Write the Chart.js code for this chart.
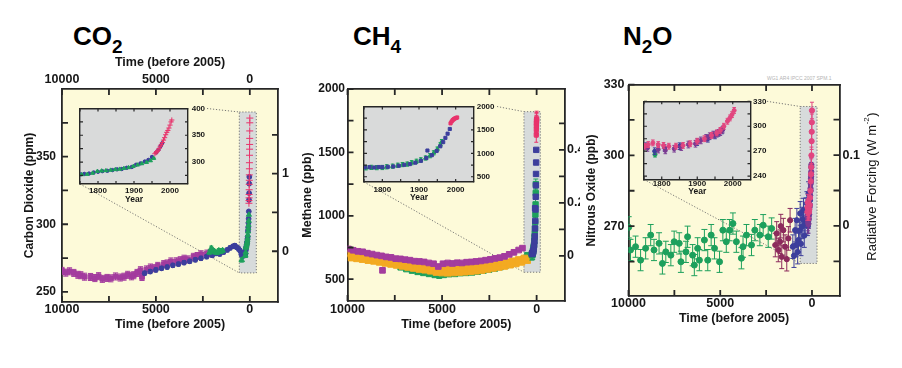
<!DOCTYPE html>
<html>
<head>
<meta charset="utf-8">
<script src="https://cdn.jsdelivr.net/npm/chart.js@4.4.1/dist/chart.umd.min.js"></script>
<style>
  body { margin: 0; background: #fff; }
  #wrap { position: relative; width: 902px; height: 368px; overflow: hidden; font-family: 'Liberation Sans', Arial, sans-serif; }
  canvas { position: absolute; }
  .gas { position: absolute; top: 23px; font-weight: bold; font-size: 26px; line-height: 26px; color: #000; }
  .gas sub { font-size: 19px; vertical-align: -8px; line-height: 0; }
  .stamp { position: absolute; left: 767px; top: 75px; font-size: 5px; color: #b4b4b4; white-space: nowrap; }
</style>
</head>
<body>
<div id="wrap">
  <div class="gas" style="left:73px">CO<sub>2</sub></div>
  <div class="gas" style="left:353px">CH<sub>4</sub></div>
  <div class="gas" style="left:623px">N<sub>2</sub>O</div>
  <div class="stamp">WG1 AR4 IPCC 2007 SPM.1</div>
  <canvas id="co2" style="left:0;top:40px" width="300" height="305"></canvas>
  <canvas id="ch4" style="left:300px;top:40px" width="280" height="305"></canvas>
  <canvas id="n2o" style="left:580px;top:40px" width="322" height="305"></canvas>
  <canvas id="co2in" style="left:70px;top:100px" width="137" height="110"></canvas>
  <canvas id="ch4in" style="left:354px;top:99px" width="143" height="110"></canvas>
  <canvas id="n2oin" style="left:634px;top:94px" width="133" height="110"></canvas>
</div>
<script>
// axes
const timeTicks = [10000, 7500, 5000, 2500, 0];
const timeLabels = ['10000', '', '5000', '', '0'];
const yearTicks = [1750, 1800, 1850, 1900, 1950, 2000];
const yearLabels = ['', '1800', '', '1900', '', '2000'];

const co2Ticks = [250, 275, 300, 325, 350, 375];
const co2Labels = ['250', '', '300', '', '350', ''];
const co2RfTicks = [0, 0.5, 1, 1.5];
const co2RfLabels = ['0', '', '1', ''];
const co2InsetTicks = [275, 300, 325, 350, 375, 400];
const co2InsetLabels = ['', '300', '', '350', '', '400'];

const ch4Ticks = [500, 750, 1000, 1250, 1500, 1750, 2000];
const ch4Labels = ['500', '', '1000', '', '1500', '', '2000'];
const ch4RfTicks = [0, 0.1, 0.2, 0.3, 0.4, 0.5];
const ch4RfLabels = ['0', '', '0.2', '', '0.4', ''];
const ch4InsetTicks = [500, 750, 1000, 1250, 1500, 1750, 2000];
const ch4InsetLabels = ['500', '', '1000', '', '1500', '', '2000'];

const n2oTicks = [255, 270, 285, 300, 315, 330];
const n2oLabels = ['', '270', '', '300', '', '330'];
const n2oRfTicks = [-0.05, 0, 0.05, 0.1, 0.15];
const n2oRfLabels = ['', '0', '', '0.1', ''];
const n2oInsetTicks = [240, 255, 270, 285, 300, 315, 330];
const n2oInsetLabels = ['240', '', '270', '', '300', '', '330'];

// CO2, ppm (age = years before 2005)
const co2DomeAge = [10000, 9800, 9600, 9370, 9150, 9000, 8800, 8480, 8250, 8050, 7850, 7600, 7400, 7150, 6900, 6700, 6500, 6300, 6180, 6000, 5820, 5740, 5500, 5290, 5100, 4900, 4580, 4400, 4200, 3900, 3700, 3500, 3300, 3000, 2800, 2600, 2280, 2100];
const co2DomeVal = [265.5, 264.2, 265.2, 264.0, 262.6, 262.3, 261.2, 261.0, 260.2, 261.6, 259.6, 260.3, 260.0, 261.4, 260.6, 261.2, 262.6, 261.5, 262.3, 264.0, 266.0, 261.0, 266.6, 268.0, 267.5, 269.2, 270.5, 271.0, 272.5, 272.6, 273.4, 274.5, 274.0, 275.9, 276.5, 277.8, 278.3, 278.8];
const co2LawAge = [5600, 5300, 5000, 4700, 4400, 4100, 3800, 3500, 3200, 2900, 2600, 2300, 2000, 1800, 1600, 1400, 1200, 1050, 900, 800, 700, 600, 520, 450, 380, 330];
const co2LawVal = [263.8, 265.0, 266.2, 267.4, 268.3, 269.6, 270.5, 271.6, 272.6, 273.7, 274.8, 276.0, 277.0, 278.4, 278.0, 279.4, 281.0, 282.5, 283.6, 284.2, 283.0, 281.8, 280.4, 277.6, 276.5, 278.8];
const co2GreenAge = [2150, 2050, 1950, 1850, 1750, 1650, 1550, 1450, 430];
const co2GreenVal = [279.2, 282.3, 280.6, 279.4, 279.0, 280.5, 279.8, 280.6, 273.5];
const co2InsetBlueYear = [1752, 1762, 1775, 1788, 1800, 1812, 1826, 1840, 1853, 1866, 1880, 1894, 1906, 1918, 1930, 1940, 1950, 1962, 1968, 1974, 1978];
const co2InsetBlueVal = [277.0, 277.8, 278.5, 280.5, 281.8, 283.0, 283.6, 285.0, 286.4, 287.0, 289.3, 290.8, 295.0, 297.6, 301.0, 304.0, 309.5, 318.0, 323.0, 330.0, 335.0];
const co2InsetGreenYear = [1755, 1770, 1785, 1798, 1810, 1822, 1835, 1848, 1860, 1872, 1885, 1898, 1910, 1922, 1935, 1946, 1955];
const co2InsetGreenVal = [276.5, 277.2, 279.3, 282.6, 283.5, 284.0, 285.0, 286.0, 286.8, 288.2, 289.6, 292.0, 294.6, 297.0, 299.5, 302.5, 307.0];
const co2MaunaYear = [1958, 1961, 1964, 1967, 1970, 1973, 1976, 1979, 1982, 1985, 1988, 1991, 1994, 1997, 2000, 2003, 2005];
const co2MaunaVal = [315.5, 317.5, 319.5, 322.0, 325.5, 329.5, 332.5, 336.5, 341.0, 345.5, 351.0, 355.5, 359.0, 363.5, 369.0, 375.0, 378.5];

// CH4, ppb
const ch4PurpleAge = [9950, 9700, 9450, 9200, 8950, 8700, 8450, 8200, 8150, 7950, 7700, 7450, 7200, 6950, 6700, 6450, 6200, 5950, 5700, 5450, 5200, 4950, 4700, 4450, 4200, 3950, 3700, 3450, 3200, 2950, 2700, 2450, 2200, 1950, 1700, 1450, 1200, 950, 750];
const ch4PurpleVal = [738, 728, 720, 716, 705, 698, 690, 684, 570, 676, 672, 662, 660, 654, 650, 642, 640, 636, 628, 622, 600, 622, 628, 624, 630, 628, 634, 636, 640, 644, 650, 656, 664, 670, 680, 696, 712, 730, 745];
const ch4OrangeAge = [9950, 9800, 9650, 9500, 9350, 9200, 9050, 8900, 8750, 8600, 8450, 8300, 8150, 8000, 7850, 7700, 7550, 7400, 7250, 7100, 6950, 6800, 6650, 6500, 6350, 6200, 6050, 5900, 5750, 5600, 5450, 5300, 5150, 5000, 4850, 4700, 4550, 4400, 4250, 4100, 3950, 3800, 3650, 3500, 3350, 3200, 3050, 2900, 2750, 2600, 2450, 2300, 2150, 2000, 1850, 1700, 1550, 1400, 1250, 1100, 950, 800, 650, 500];
const ch4OrangeVal = [702, 670, 694, 664, 690, 658, 682, 650, 676, 644, 664, 636, 660, 628, 648, 620, 640, 612, 632, 604, 624, 596, 616, 588, 606, 580, 600, 574, 594, 566, 588, 556, 582, 552, 580, 550, 582, 552, 584, 556, 586, 558, 590, 562, 592, 566, 598, 572, 604, 580, 612, 588, 618, 596, 626, 604, 634, 614, 642, 624, 652, 636, 664, 650];
const ch4GreenAge = [7200, 6900, 6600, 6300, 6000, 5700, 5400, 5150, 4900, 4600, 4300, 4000, 3700, 3400, 3100, 2800, 2500, 2200, 1900, 1600, 1300, 1000, 700, 500];
const ch4GreenVal = [592, 578, 566, 556, 548, 540, 532, 526, 532, 538, 540, 546, 548, 552, 558, 566, 574, 582, 594, 608, 622, 640, 662, 690];
const ch4InsetBlueYear = [1752, 1765, 1778, 1790, 1800, 1815, 1830, 1845, 1860, 1875, 1890, 1905, 1920, 1923, 1935, 1948, 1958, 1966, 1972, 1978, 1984];
const ch4InsetBlueVal = [700, 705, 698, 708, 705, 712, 720, 735, 755, 770, 800, 840, 900, 1060, 960, 1050, 1150, 1240, 1330, 1420, 1520];
const ch4InsetGreenYear = [1755, 1770, 1785, 1800, 1812, 1828, 1842, 1855, 1868, 1880, 1893, 1905, 1918, 1930, 1940, 1950, 1958, 1962];
const ch4InsetGreenVal = [690, 700, 695, 698, 712, 725, 745, 760, 770, 800, 830, 860, 900, 950, 1010, 1090, 1180, 1250];
const ch4InsetRedYear = [1986, 1989, 1992, 1995, 1998, 2001, 2004];
const ch4InsetRedVal = [1640, 1680, 1710, 1730, 1745, 1755, 1765];

// N2O, ppb
const n2oGreenAge = [9990, 9890, 9615, 9341, 9066, 8791, 8610, 8335, 8152, 7967, 7692, 7511, 7236, 7143, 6868, 6780, 6505, 6412, 6231, 6137, 5863, 5681, 5495, 5313, 5038, 4857, 4670, 4489, 4308, 4121, 3846, 3758, 3571, 3297, 3115, 2841, 2659, 2385, 2198];
const n2oGreenVal = [269.5, 259.9, 261.3, 255.6, 260.6, 266.2, 259.9, 262.7, 254.2, 259.1, 257.7, 263.4, 262.7, 254.9, 259.1, 265.5, 257.7, 253.5, 260.6, 255.6, 264.1, 255.6, 266.2, 260.6, 254.9, 268.3, 263.4, 268.3, 271.1, 263.4, 256.4, 261.3, 266.2, 262.0, 268.3, 266.2, 270.4, 265.5, 269.0];
const n2oMaroonAge = [2000, 1923, 1835, 1742, 1700, 1648, 1560, 1467, 1374, 1286, 1192];
const n2oMaroonVal = [262.0, 266.9, 259.9, 263.4, 270.0, 257.0, 268.3, 261.3, 256.0, 264.8, 272.5];
const n2oBlueAge = [1044, 980, 918, 870, 824, 780, 736, 690, 643, 600, 549, 500, 462, 420, 368, 320, 275, 230, 187];
const n2oBlueVal = [261.3, 257.5, 268.3, 262.0, 272.5, 259.0, 264.1, 268.0, 275.4, 262.5, 269.7, 273.0, 276.8, 266.0, 271.1, 277.0, 279.6, 272.0, 283.8];
const n2oPinkYear = [1752, 1762, 1775, 1790, 1805, 1820, 1840, 1860, 1880, 1900, 1920, 1940, 1955, 1965, 1975, 1985, 1992, 1998, 2004];
const n2oPinkVal = [276, 278, 280, 278, 277, 276, 276, 277, 279, 282, 285, 289, 292, 295, 300, 306, 310, 314, 319];
const n2oPurpleYear = [1760, 1790, 1810, 1835, 1855, 1875, 1895, 1910, 1925, 1935, 1945, 1955, 1965, 1972];
const n2oPurpleVal = [274, 272, 271, 273, 275, 278, 279, 283, 286, 288, 290, 291, 293, 296];
const n2oInsetBlueYear = [1755, 1780, 1808, 1850, 1900, 1930, 1950, 1960, 1970];
const n2oInsetBlueVal = [276, 270, 274, 276, 281, 285, 289, 292, 295];
const n2oInsetGreenYear = [1781];
const n2oInsetGreenVal = [266];

const FRAME = '#262626';
const INK = '#161616';
const YELLOW = '#fdfad9';
const GREY = '#d9dada';
const PURPLE = '#a33c9e';
const BLUE = '#3c3e9c';
const GREEN = '#1da05c';
const RED = '#e8336b';
const ORANGE = '#f3aa22';
const MAROON = '#8c2a5c';
const PINK = '#e2457f';
const VIOLET = '#7a3a92';

Chart.defaults.font.family = "'Liberation Sans', Arial, sans-serif";
Chart.defaults.color = INK;

// pale background inside the frame
Chart.register({
  id: 'frameBg',
  beforeDraw(chart, args, opts) {
    if (!opts.color) return;
    const a = chart.chartArea;
    chart.ctx.save();
    chart.ctx.fillStyle = opts.color;
    chart.ctx.fillRect(a.left, a.top, a.width, a.height);
    chart.ctx.restore();
  }
});

// vertical error bars with caps, drawn just under each dataset's markers
Chart.register({
  id: 'errorBars',
  beforeDatasetDraw(chart, args) {
    const ds = chart.data.datasets[args.index];
    if (!ds.err) return;
    const ctx = chart.ctx, ys = chart.scales[args.meta.yAxisID], a = chart.chartArea;
    ctx.save();
    ctx.beginPath();
    ctx.rect(a.left, a.top, a.width, a.height);
    ctx.clip();
    ctx.strokeStyle = ds.borderColor;
    ctx.lineWidth = 1;
    ctx.beginPath();
    args.meta.data.forEach((pt, i) => {
      const v = ds.data[i].y;
      const t = ys.getPixelForValue(v + ds.err), b = ys.getPixelForValue(v - ds.err);
      ctx.moveTo(pt.x, t); ctx.lineTo(pt.x, b);
      ctx.moveTo(pt.x - ds.cap, t); ctx.lineTo(pt.x + ds.cap, t);
      ctx.moveTo(pt.x - ds.cap, b); ctx.lineTo(pt.x + ds.cap, b);
    });
    ctx.stroke();
    ctx.restore();
  }
});

// tick marks pointing into the plot, on every side
Chart.register({
  id: 'innerTicks',
  afterDatasetsDraw(chart) {
    const { ctx, chartArea: a } = chart;
    ctx.save();
    ctx.strokeStyle = FRAME;
    Object.values(chart.scales).forEach(s => {
      const len = s.options.grid.tickLength;
      ctx.lineWidth = s.options.grid.lineWidth;
      ctx.beginPath();
      s.ticks.forEach(t => {
        const p = s.getPixelForValue(t.value);
        if (s.position === 'bottom') { ctx.moveTo(p, a.bottom); ctx.lineTo(p, a.bottom - len); }
        else if (s.position === 'top') { ctx.moveTo(p, a.top); ctx.lineTo(p, a.top + len); }
        else if (s.position === 'left') { ctx.moveTo(a.left, p); ctx.lineTo(a.left + len, p); }
        else { ctx.moveTo(a.right, p); ctx.lineTo(a.right - len, p); }
      });
      ctx.stroke();
    });
    ctx.restore();
  }
});

function pts(xs, ys) { return xs.map((x, i) => ({ x, y: ys[i] })); }
function ago(years) { return years.map(y => 2005 - y); }

function mark(data, color, style, radius, err, cap) {
  return {
    data, backgroundColor: color, borderColor: color,
    pointStyle: style, pointRadius: radius, pointBorderWidth: 1,
    err: err || 0, cap: cap || 2
  };
}

function axis(o) {
  const tick = o.tick || 6;
  return {
    type: 'linear',
    position: o.pos,
    min: o.min,
    max: o.max,
    reverse: !!o.reverse,
    afterBuildTicks: s => { s.ticks = o.values.map(v => ({ value: v })); },
    afterFit: s => { if (s.isHorizontal()) s.height = o.size; else s.width = o.size; },
    grid: { drawOnChartArea: false, drawTicks: false, tickLength: tick, color: FRAME, lineWidth: o.lw || 1.8 },
    border: { display: true, color: FRAME, width: o.bw || 1.8 },
    ticks: {
      autoSkip: false, maxRotation: 0, padding: (o.pad || 0) - (o.tick ? tick : 5), color: INK,
      font: { size: o.fs || 12.5, weight: 'bold' },
      callback: (v, i) => (o.labels ? o.labels[i] : '')
    },
    title: o.title
      ? { display: true, text: o.title, color: INK, font: { size: o.tfs || 12.5, weight: o.tw || 'bold' }, padding: o.tpad }
      : { display: false }
  };
}

function panel(id, cfg) {
  return new Chart(document.getElementById(id), {
    type: 'scatter',
    data: { datasets: cfg.datasets },
    options: {
      responsive: false,
      animation: false,
      events: [],
      layout: { padding: 0 },
      scales: cfg.scales,
      plugins: { legend: { display: false }, tooltip: { enabled: false }, frameBg: { color: cfg.bg } }
    },
    plugins: cfg.plugins || []
  });
}

// grey zoom box on the main plot, with dotted lines to the inset
function zoomLink(box, inset, mainAt, insetAt) {
  return {
    id: 'zoomLink',
    beforeDatasetsDraw(chart) {
      const { ctx, scales: { x, y } } = chart;
      const x1 = x.getPixelForValue(box.age[0]), x2 = x.getPixelForValue(box.age[1]);
      const y1 = y.getPixelForValue(box.val[0]), y2 = y.getPixelForValue(box.val[1]);
      const dx = insetAt[0] - mainAt[0], dy = insetAt[1] - mainAt[1];
      const a = inset.chartArea;
      ctx.save();
      ctx.fillStyle = '#d7dbdb';
      ctx.fillRect(x1, y2, x2 - x1, y1 - y2);
      ctx.setLineDash([1.2, 1.8]);
      ctx.strokeStyle = '#6a6a6a';
      ctx.lineWidth = 0.9;
      ctx.strokeRect(x1, y2, x2 - x1, y1 - y2);
      ctx.beginPath();
      ctx.moveTo(inset.scales.y.right + dx, a.top + dy);
      ctx.lineTo(x1, y2);
      ctx.moveTo(a.left + dx, a.bottom + dy);
      ctx.lineTo(x1, y1);
      ctx.stroke();
      ctx.restore();
    }
  };
}

function insetScales(min, max, values, labels, rightSize, pad, xPad, yearPad) {
  return {
    x: axis({ pos: 'bottom', min: 1750, max: 2050, values: yearTicks, labels: yearLabels, size: 110 - yearPad.area, pad: xPad, fs: 8, tick: 3, lw: 1.2, bw: 1.4,
      title: 'Year', tfs: 8.5, tpad: { top: 0, bottom: yearPad.title } }),
    xTop: axis({ pos: 'top', min: 1750, max: 2050, values: yearTicks, size: 7, tick: 3, lw: 1.2, bw: 1.4 }),
    y: axis({ pos: 'right', min, max, values, labels, size: rightSize, pad, fs: 8, tick: 3, lw: 1.2, bw: 1.4 }),
    yLeft: axis({ pos: 'left', min, max, values, size: 10, tick: 3, lw: 1.2, bw: 1.4 })
  };
}

function mainX(size, pad, tpadBottom) {
  return axis({ pos: 'bottom', min: -1500, max: 10000, reverse: true, values: timeTicks, labels: timeLabels, size, pad,
    title: 'Time (before 2005)', tpad: { top: 0, bottom: tpadBottom } });
}

// ---------- CO2 ----------
const co2Inset = panel('co2in', {
  bg: GREY,
  datasets: [
    mark(pts(co2MaunaYear, co2MaunaVal), RED, 'cross', 2.6, 0),
    mark(pts(co2InsetGreenYear, co2InsetGreenVal), GREEN, 'triangle', 2.2, 1.2, 1.5),
    mark(pts(co2InsetBlueYear, co2InsetBlueVal), BLUE, 'circle', 1.7, 1.5, 1.5)
  ],
  scales: insetScales(259, 400, co2InsetTicks, co2InsetLabels, 19, 6.7, 5.2, { area: 84, title: 4.9 })
});

panel('co2', {
  bg: YELLOW,
  datasets: [
    mark(pts(ago(co2MaunaYear), co2MaunaVal), RED, 'cross', 3.5, 0),
    mark(pts(ago(co2InsetGreenYear), co2InsetGreenVal), GREEN, 'triangle', 3, 0),
    mark(pts(ago(co2InsetBlueYear), co2InsetBlueVal), BLUE, 'circle', 2.4, 0),
    mark(pts(co2GreenAge, co2GreenVal), GREEN, 'triangle', 3.2, 1.5, 2),
    mark(pts(co2LawAge, co2LawVal), BLUE, 'circle', 2.4, 1.5, 2),
    mark(pts(co2DomeAge, co2DomeVal), PURPLE, 'rect', 3.4, 2.6, 2.6)
  ],
  scales: {
    x: mainX(43, 5.5, 12.8),
    xTop: axis({ pos: 'top', min: -1500, max: 10000, reverse: true, values: timeTicks, labels: timeLabels, size: 49, pad: 7,
      title: 'Time (before 2005)', tpad: { top: 14.8, bottom: 0 } }),
    y: axis({ pos: 'left', min: 242.5, max: 400, values: co2Ticks, labels: co2Labels, size: 62, pad: 11, fs: 12,
      title: 'Carbon Dioxide (ppm)', tfs: 12, tpad: { top: 22.8, bottom: 0 } }),
    yRight: axis({ pos: 'right', min: -0.654, max: 2.09, values: co2RfTicks, labels: co2RfLabels, size: 22, pad: 9 })
  },
  plugins: [zoomLink({ age: [560, -345], val: [264, 383] }, co2Inset, [0, 40], [70, 100])]
});

// ---------- CH4 ----------
const ch4Inset = panel('ch4in', {
  bg: GREY,
  datasets: [
    mark(pts(ch4InsetRedYear, ch4InsetRedVal), RED, 'rect', 2.2, 25, 1.5),
    mark(pts(ch4InsetBlueYear, ch4InsetBlueVal), BLUE, 'rect', 2.2, 0),
    mark(pts(ch4InsetGreenYear, ch4InsetGreenVal), GREEN, 'triangle', 2.4, 45, 1.8)
  ],
  scales: insetScales(388, 2000, ch4InsetTicks, ch4InsetLabels, 23, 5.7, 5.5, { area: 83, title: 5.9 })
});

panel('ch4', {
  bg: YELLOW,
  datasets: [
    mark(pts(ago(ch4InsetRedYear), ch4InsetRedVal), RED, 'rect', 3, 60, 0),
    mark(pts(ago(ch4InsetBlueYear), ch4InsetBlueVal), BLUE, 'rect', 3.8, 0),
    mark(pts(ago(ch4InsetGreenYear), ch4InsetGreenVal), GREEN, 'rect', 3.8, 40, 2.5),
    mark(pts(ch4PurpleAge, ch4PurpleVal), PURPLE, 'rect', 4, 10, 2.5),
    mark(pts(ch4OrangeAge, ch4OrangeVal), ORANGE, 'rect', 4.6, 14, 2.5),
    mark(pts(ch4GreenAge, ch4GreenVal), GREEN, 'rect', 3.6, 10, 2.5)
  ],
  scales: {
    x: mainX(44, 6.5, 12.8),
    xTop: axis({ pos: 'top', min: -1500, max: 10000, reverse: true, values: timeTicks, size: 49 }),
    y: axis({ pos: 'left', min: 328, max: 2000, values: ch4Ticks, labels: ch4Labels, size: 47.5, pad: 7.5, fs: 12,
      title: 'Methane (ppb)', tfs: 12.5, tpad: { top: 0.5, bottom: 0 } }),
    yRight: axis({ pos: 'right', min: -0.17, max: 0.63, values: ch4RfTicks, labels: ch4RfLabels, size: 15, pad: 7 })
  },
  plugins: [zoomLink({ age: [670, -195], val: [555, 1821] }, ch4Inset, [300, 40], [354, 99])]
});

// ---------- N2O ----------
const n2oInset = panel('n2oin', {
  bg: GREY,
  datasets: [
    mark(pts(n2oPinkYear, n2oPinkVal), PINK, 'circle', 2, 3.5, 1.8),
    mark(pts(n2oPurpleYear, n2oPurpleVal), VIOLET, 'circle', 2, 4, 1.8),
    mark(pts(n2oInsetBlueYear, n2oInsetBlueVal), BLUE, 'circle', 2, 4, 1.8),
    mark(pts(n2oInsetGreenYear, n2oInsetGreenVal), GREEN, 'circle', 2, 3, 1.8)
  ],
  scales: insetScales(236, 330, n2oInsetTicks, n2oInsetLabels, 16.5, 5.5, 2, { area: 85.5, title: 7.2 })
});

const forcingTitle = {
  id: 'forcingTitle',
  afterDraw(chart) {
    const { ctx, chartArea: a } = chart;
    const main = 'Radiative Forcing (W m', sup = '-2', end = ')';
    const big = "13px 'Liberation Sans', Arial, sans-serif", small = "8px 'Liberation Sans', Arial, sans-serif";
    ctx.save();
    ctx.translate(chart.scales.yRight.right - 30, (a.top + a.bottom) / 2 - 4);
    ctx.rotate(-Math.PI / 2);
    ctx.fillStyle = INK;
    ctx.textBaseline = 'middle';
    ctx.font = big;
    const w1 = ctx.measureText(main).width, w3 = ctx.measureText(end).width;
    ctx.font = small;
    const w2 = ctx.measureText(sup).width;
    let x0 = -(w1 + w2 + w3 + 1) / 2;
    ctx.font = big;
    ctx.fillText(main, x0, 0);
    x0 += w1 + 0.5;
    ctx.font = small;
    ctx.fillText(sup, x0, -5);
    x0 += w2 + 0.5;
    ctx.font = big;
    ctx.fillText(end, x0, 0);
    ctx.restore();
  }
};

panel('n2o', {
  bg: YELLOW,
  datasets: [
    mark(pts(ago(n2oPinkYear), n2oPinkVal), PINK, 'circle', 2.6, 3.5, 2),
    mark(pts(ago(n2oPurpleYear), n2oPurpleVal), VIOLET, 'circle', 2.6, 4, 2),
    mark(pts(ago(n2oInsetBlueYear), n2oInsetBlueVal), BLUE, 'circle', 2.6, 4, 2),
    mark(pts(n2oBlueAge, n2oBlueVal), BLUE, 'circle', 2.6, 5, 2.5),
    mark(pts(n2oMaroonAge, n2oMaroonVal), MAROON, 'circle', 2.6, 5, 2.5),
    mark(pts(n2oGreenAge, n2oGreenVal), GREEN, 'circle', 3, 4.5, 3)
  ],
  scales: {
    x: mainX(49, 5.5, 18.8),
    xTop: axis({ pos: 'top', min: -1500, max: 10000, reverse: true, values: timeTicks, size: 45 }),
    y: axis({ pos: 'left', min: 240.4, max: 329.8, values: n2oTicks, labels: n2oLabels, size: 48.5, pad: 9, fs: 12.5,
      title: 'Nitrous Oxide (ppb)', tfs: 12, tpad: { top: 4.8, bottom: 0 } }),
    yRight: axis({ pos: 'right', min: -0.099, max: 0.199, values: n2oRfTicks, labels: n2oRfLabels, size: 62.5, pad: 8 })
  },
  plugins: [zoomLink({ age: [643, -275], val: [254.2, 320.7] }, n2oInset, [580, 40], [634, 94]), forcingTitle]
});
</script>
</body>
</html>
